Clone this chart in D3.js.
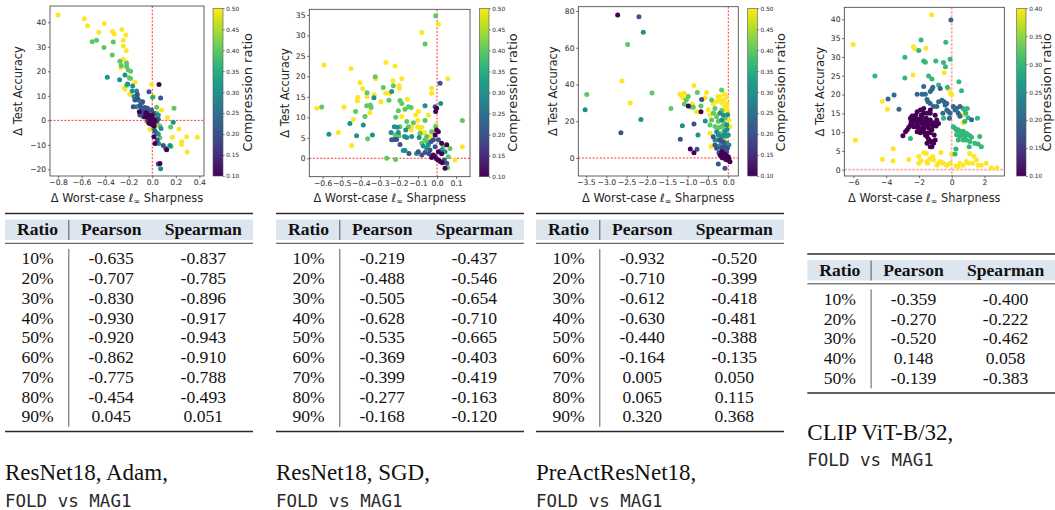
<!DOCTYPE html>
<html>
<head>
<meta charset="utf-8">
<script src="https://cdn.jsdelivr.net/npm/d3@7"></script>
<style>
  body { margin: 0; background: #fff; }
  svg { display: block; }
</style>
</head>
<body>
<svg id="fig" width="1055" height="510"></svg>
<script>
// ---------------------------------------------------------------
// Scatter data: [Δ worst-case ℓ∞ sharpness, Δ test accuracy, compression ratio]
// ---------------------------------------------------------------
const adamPoints = [
  [-0.80,43.0,.5],[-0.577,41.4,.5],[-0.549,38.6,.5],[-0.408,39.5,.5],[-0.453,35.9,.5],[-0.51,32.1,.4],[-0.473,32.7,.4],
  [-0.41,29.7,.4],[-0.337,36.2,.5],[-0.323,35.2,.5],[-0.258,37.1,.5],[-0.224,34.8,.5],[-0.331,32.0,.4],[-0.246,32.7,.5],
  [-0.246,30.3,.5],[-0.221,28.4,.5],[-0.34,26.7,.4],[-0.246,24.9,.5],[-0.275,24.1,.4],[-0.218,23.4,.4],[-0.263,22.4,.4],
  [-0.218,22.0,.4],[-0.266,21.5,.5],[-0.204,20.5,.4],[-0.232,18.5,.3],[-0.382,17.6,.3],[-0.184,20.0,.4],[-0.195,17.4,.4],
  [-0.277,16.6,.3],[-0.184,17.1,.4],[-0.209,14.8,.3],[-0.218,14.3,.4],[-0.238,13.2,.5],[-0.232,12.8,.5],[-0.147,15.5,.5],
  [-0.167,14.0,.3],[-0.17,12.0,.3],[-0.133,12.0,.3],[-0.19,10.6,.5],[-0.127,10.6,.2],[-0.156,9.7,.3],[-0.147,8.3,.2],
  [-0.11,8.0,.3],[-0.082,7.6,.2],[-0.161,5.6,.2],[-0.133,5.6,.3],[-0.105,6.1,.2],[-0.091,4.9,.2],[-0.076,4.2,.2],
  [-0.062,5.2,.2],[-0.11,3.5,.1],[-0.048,2.9,.2],[-0.034,2.2,.1],[-0.02,1.5,.1],[-0.048,4.2,.3],[-0.076,2.9,.2],
  [-0.034,3.5,.2],[-0.025,0.8,.1],[-0.006,1.2,.1],[-0.014,0.1,.1],[0.008,0.5,.1],[0.023,-0.1,.1],[0.014,-1.0,.1],
  [0.037,-0.5,.2],[-0.028,11.7,.2],[-0.006,14.6,.5],[0.003,9.4,.35],[0.011,9.7,.5],[0.057,14.6,.1],[0.071,9.1,.2],
  [0.037,5.3,.4],[0.079,4.2,.5],[0.184,4.9,.4],[0.178,-0.8,.3],[0.13,1.2,.5],[0.226,-3.5,.5],[0.156,-2.7,.4],
  [0.065,-2.3,.4],[0.074,-3.3,.3],[-0.02,-3.7,.5],[0.017,-2.3,.1],[0.023,-4.4,.2],[0.037,-5.3,.3],[0.014,-6.7,.1],
  [0.051,-5.6,.3],[0.065,-7.1,.4],[0.042,-8.0,.2],[0.023,-9.4,.1],[0.054,-9.4,.3],[0.17,-6.9,.5],[0.093,-10.3,.2],
  [0.113,-11.4,.3],[0.122,-12.0,.1],[0.15,-10.3,.3],[0.159,-10.7,.4],[0.249,-8.7,.5],[0.249,-9.8,.5],[0.292,-6.7,.5],
  [0.297,-12.9,.5],[0.382,-6.9,.5],[0.051,-17.8,.2],[0.065,-17.6,.1],[0.071,-19.7,.3],[-0.003,2.2,.1],[0.037,1.5,.3],
  [0.051,0.4,.2],[0.014,-3.3,.3],[-0.048,-0.5,.5],[-0.028,-1.2,.1],[-0.076,1.5,.2],[-0.105,2.2,.2],[-0.062,1.5,.1],
  [-0.042,-0.1,.2],[-0.011,-1.5,.1],[0.003,-1.9,.2],[-0.054,3.1,.1],[-0.091,7.0,.3],[-0.125,9.0,.2],[-0.04,4.9,.2],
  [-0.006,4.2,.2],[0.014,2.9,.2],[0.037,2.9,.4],[0.051,2.2,.3],[-0.03,0.6,.5],[0.02,1.8,.4],[0.045,-1.5,.5]
];

const sgdPoints = [
  [-0.593,22.8,.5],[-0.631,12.2,.5],[-0.605,12.5,.4],[-0.567,5.9,.3],[-0.518,6.3,.5],[-0.488,12.5,.5],[-0.451,21.9,.5],
  [-0.457,8.5,.3],[-0.439,9.5,.5],[-0.427,11.4,.4],[-0.448,3.1,.5],[-0.422,5.5,.3],[-0.418,14.0,.5],[-0.416,14.9,.5],
  [-0.404,18.5,.5],[-0.39,17.0,.5],[-0.387,8.1,.3],[-0.378,10.2,.4],[-0.367,16.0,.4],[-0.369,12.8,.4],[-0.367,15.1,.5],
  [-0.35,13.0,.4],[-0.352,11.2,.5],[-0.364,4.8,.4],[-0.339,5.7,.3],[-0.331,14.8,.3],[-0.329,15.5,.5],[-0.324,19.9,.4],
  [-0.322,19.4,.5],[-0.346,12.4,.4],[-0.294,13.8,.5],[-0.282,17.3,.4],[-0.268,23.4,.5],[-0.269,15.9,.5],[-0.264,0.0,.4],
  [-0.252,14.2,.4],[-0.247,15.9,.5],[-0.238,16.3,.3],[-0.229,17.7,.4],[-0.231,18.9,.5],[-0.22,22.5,.5],[-0.241,6.3,.3],
  [-0.217,-0.3,.4],[-0.224,4.6,.2],[-0.199,17.7,.5],[-0.198,17.1,.5],[-0.185,19.4,.5],[-0.194,14.1,.4],[-0.185,13.4,.4],
  [-0.203,11.6,.4],[-0.185,10.2,.5],[-0.194,7.7,.4],[-0.208,7.6,.3],[-0.224,7.7,.3],[-0.217,10.0,.4],[-0.203,6.3,.3],
  [-0.199,5.5,.4],[-0.22,5.7,.4],[-0.212,4.6,.2],[-0.238,4.5,.2],[-0.194,3.4,.2],[-0.177,1.9,.3],[-0.168,1.9,.3],
  [-0.147,1.2,.2],[-0.168,12.0,.4],[-0.156,14.4,.5],[-0.15,12.6,.4],[-0.136,12.4,.4],[-0.159,9.0,.4],[-0.15,7.7,.4],
  [-0.136,6.9,.5],[-0.133,7.5,.5],[-0.164,6.9,.3],[-0.159,5.1,.3],[-0.133,5.3,.3],[-0.17,5.3,.3],[-0.112,10.6,.5],
  [-0.101,9.2,.5],[-0.098,11.4,.5],[-0.124,8.7,.4],[-0.101,7.7,.5],[-0.089,7.3,.5],[-0.08,7.6,.5],[-0.089,6.1,.4],
  [-0.08,6.1,.5],[-0.094,5.1,.3],[-0.066,6.3,.5],[-0.054,5.3,.4],[-0.063,4.5,.4],[-0.072,3.0,.3],[-0.08,3.7,.4],
  [-0.054,2.4,.3],[-0.037,2.0,.2],[-0.045,3.3,.3],[-0.063,1.4,.2],[-0.042,1.1,.2],[-0.019,0.8,.1],[-0.01,0.4,.1],
  [-0.028,0.2,.1],[-0.002,-0.2,.1],[0.007,-0.4,.1],[0.016,-0.8,.1],[0.028,-1.1,.1],[0.038,-0.4,.2],[0.051,-1.2,.2],
  [0.042,-2.4,.1],[0.056,-2.3,.4],[0.059,0.4,.4],[0.068,2.4,.4],[0.024,1.1,.1],[0.007,1.6,.1],[-0.01,2.8,.2],
  [-0.019,4.5,.2],[-0.01,5.7,.1],[-0.002,6.9,.1],[-0.005,8.1,.5],[-0.007,11.4,.1],[-0.01,12.6,.2],[0.016,18.3,.2],
  [0.019,13.4,.3],[-0.028,15.9,.5],[-0.007,34.8,.4],[-0.08,30.7,.5],[-0.063,27.9,.4],[0.007,32.7,.5],[-0.028,17.1,.5],
  [-0.063,12.8,.3],[-0.045,10.6,.5],[-0.002,12.2,.1],[-0.063,9.2,.4],[0.056,19.4,.5],[0.133,9.2,.4],[0.133,2.8,.5],
  [0.094,-0.4,.5],[0.051,3.3,.1],[0.024,3.7,.1],[0.007,4.5,.2],[-0.031,4.1,.2],[-0.054,4.1,.4],[-0.028,6.5,.4],
  [-0.037,5.3,.5],[-0.019,6.5,.5],[0.007,6.5,.1],[-0.007,7.7,.4],[-0.098,1.6,.2],[-0.08,0.8,.2],[-0.107,1.2,.3],
  [0.024,2.0,.3],[0.033,2.8,.4],[0.042,1.6,.3]
];

const preactPoints = [
  [-2.72,77.8,.1],[-2.197,76.9,.2],[-2.09,68.4,.3],[-2.475,61.7,.4],[-2.615,41.9,.5],[-2.41,29.9,.5],[-3.48,34.5,.4],
  [-3.52,26.3,.3],[-2.64,13.8,.2],[-2.148,21.0,.3],[-1.877,35.4,.4],[-1.41,27.0,.4],[-1.19,34.8,.5],[-1.148,33.9,.5],
  [-1.107,32.5,.5],[-1.08,35.2,.5],[-1.08,29.4,.4],[-1.033,31.6,.4],[-0.984,33.4,.4],[-0.844,39.5,.5],[-0.885,29.4,.5],
  [-0.918,27.8,.4],[-0.861,27.6,.4],[-0.984,28.3,.1],[-0.762,35.6,.4],[-0.639,31.9,.5],[-0.656,31.9,.2],[-0.672,25.2,.1],
  [-0.779,25.2,.5],[-0.672,28.3,.4],[-0.533,35.7,.5],[-0.57,32.8,.5],[-0.566,20.1,.3],[-1.13,17.6,.3],[-1.18,10.2,.2],
  [-0.844,18.5,.2],[-0.746,12.5,.3],[-0.934,4.9,.1],[-0.844,2.9,.1],[-0.77,4.7,.2],[-0.492,26.3,.5],[-0.451,23.4,.5],
  [-0.451,18.0,.4],[-0.41,20.7,.4],[-0.451,13.4,.5],[-0.426,6.2,.5],[-0.369,29.4,.5],[-0.328,27.0,.4],[-0.262,33.4,.5],
  [-0.23,31.6,.5],[-0.18,30.7,.5],[-0.287,22.5,.4],[-0.246,19.8,.4],[-0.328,17.1,.4],[-0.205,16.7,.4],[-0.164,37.0,.4],
  [-0.123,31.6,.5],[-0.148,29.9,.5],[-0.082,27.9,.5],[-0.041,27.6,.5],[-0.016,25.2,.5],[-0.041,22.5,.5],[0.016,20.7,.5],
  [0.041,17.1,.5],[-0.164,25.8,.4],[-0.205,24.3,.3],[-0.123,23.4,.3],[-0.082,21.6,.4],[-0.164,20.7,.3],[-0.098,18.9,.4],
  [-0.041,18.0,.3],[-0.287,14.3,.3],[-0.246,12.5,.3],[-0.205,13.4,.4],[-0.164,11.6,.3],[-0.123,12.5,.3],[-0.082,14.3,.3],
  [-0.262,9.8,.3],[-0.328,9.8,.3],[-0.205,9.8,.2],[-0.123,8.9,.2],[-0.082,10.7,.5],[0.0,12.5,.3],[0.016,7.1,.3],
  [-0.041,8.0,.3],[-0.328,7.1,.2],[-0.287,5.3,.2],[-0.246,6.2,.3],[-0.164,5.3,.2],[-0.098,6.2,.2],[-0.23,2.9,.2],
  [-0.164,3.4,.1],[-0.123,2.5,.1],[-0.082,2.0,.1],[-0.041,1.1,.1],[0.0,0.7,.1],[0.016,-0.4,.1],[-0.016,-1.1,.1],
  [-0.082,-0.2,.1],[-0.123,0.7,.2],[0.041,-2.0,.1],[-0.041,3.4,.2],[-0.246,-3.3,.2],[-0.082,-5.6,.2],[-0.369,11.6,.2],
  [-0.098,15.2,.4],[-0.016,23.6,.3],[-0.098,34.8,.5],[-0.041,33.0,.5],[-0.205,33.4,.5],[-0.287,30.7,.5],[-0.41,31.6,.4],
  [-0.369,24.5,.4],[-0.311,23.6,.5],[-0.2,1.5,.1],[-0.15,0.2,.1],[-0.06,-0.8,.1],[-0.1,4.5,.2],[-0.02,5.5,.2],
  [-0.18,7.5,.3],[-0.06,12.0,.3],[-0.03,15.5,.3],[-0.14,17.5,.4],[-0.26,16.5,.4],[-0.03,29.5,.5],[-0.06,26.0,.5]
];

const clipPoints = [
  [-6.02,33.3,.4],[-5.88,7.8,.4],[-4.69,24.9,.3],[-4.23,2.8,.4],[-4.23,18.2,.4],[-3.89,18.8,.2],[-3.93,16.1,.4],
  [-3.52,19.9,.2],[-3.58,5.6,.4],[-3.58,2.3,.4],[-3.22,16.1,.2],[-2.98,9.0,.1],[-2.86,29.9,.3],[-2.86,24.4,.3],
  [-2.72,10.6,.1],[-2.62,2.7,.4],[-2.52,8.3,.3],[-2.48,12.8,.1],[-2.36,25.2,.4],[-2.34,32.7,.4],[-2.24,32.1,.4],
  [-2.01,31.7,.3],[-1.87,34.5,.3],[-2.01,3.5,.4],[-2.01,1.7,.4],[-1.87,2.4,.4],[-1.71,28.9,.3],[-1.61,28.6,.3],
  [-1.57,32.3,.4],[-1.41,24.9,.3],[-1.21,24.1,.3],[-1.23,41.2,.4],[-0.97,28.9,.3],[-0.5,28.5,.3],[-0.46,25.8,.4],
  [-0.36,33.9,.3],[-0.38,27.4,.3],[-0.1,29.4,.3],[-0.05,39.8,.2],[-0.8,22.5,.3],[-0.7,21.6,.2],[-0.26,21.9,.3],
  [-0.2,21.4,.4],[-0.06,20.3,.4],[0.0,20.0,.4],[0.6,21.0,.3],[0.44,23.4,.3],[-1.71,22.1,.2],[-1.61,20.1,.2],
  [-1.51,18.7,.2],[-1.31,20.8,.2],[-1.21,21.4,.2],[-1.15,21.9,.2],[-1.81,20.1,.2],[-2.11,20.1,.2],[-1.45,18.1,.2],
  [-1.31,17.6,.2],[-1.11,16.8,.2],[-0.91,16.8,.2],[-0.8,18.1,.2],[-0.6,18.5,.2],[-0.46,18.1,.2],[-0.4,17.2,.2],
  [-0.3,17.6,.2],[-0.3,15.9,.2],[-0.54,15.0,.2],[-0.5,13.7,.3],[-0.2,15.5,.2],[-0.1,15.0,.2],[-0.14,13.7,.2],
  [0.1,16.8,.2],[0.2,15.9,.2],[0.3,16.3,.2],[0.4,15.0,.2],[0.5,16.8,.2],[0.5,14.2,.2],[0.66,14.5,.4],[0.7,16.3,.3],
  [0.8,15.9,.3],[0.86,15.0,.3],[0.95,16.3,.3],[1.0,13.8,.3],[1.57,13.7,.3],[1.21,13.3,.2],[0.7,12.5,.4],[0.8,12.8,.3],
  [0.1,11.4,.3],[0.2,11.0,.3],[0.3,10.5,.3],[0.4,10.6,.3],[0.5,10.2,.3],[0.6,9.8,.3],[0.7,9.3,.3],[0.8,8.9,.3],
  [0.9,9.7,.3],[1.0,9.3,.3],[1.11,9.0,.3],[1.21,8.6,.3],[0.5,8.9,.3],[0.3,9.3,.3],[0.4,7.9,.3],[0.7,7.9,.3],
  [0.9,7.9,.3],[1.11,7.5,.3],[1.41,7.0,.3],[1.61,6.8,.3],[1.81,6.1,.3],[1.71,8.8,.3],[1.07,6.1,.3],[1.1,4.3,.4],
  [1.35,3.6,.4],[1.51,2.6,.4],[1.61,1.2,.4],[1.81,1.2,.4],[2.11,1.7,.4],[2.42,0.5,.4],[2.76,0.5,.4],[1.27,1.7,.4],
  [1.01,1.7,.4],[0.91,2.2,.4],[0.7,1.2,.4],[0.5,1.7,.4],[0.4,0.8,.4],[0.26,1.0,.4],[0.0,4.2,.4],[-0.1,1.7,.4],
  [-0.3,1.2,.4],[-0.5,1.7,.4],[-0.6,1.9,.4],[-0.7,2.2,.4],[-0.8,1.7,.4],[-0.91,1.2,.4],[-1.11,2.6,.4],[-1.15,3.5,.4],
  [-1.35,2.8,.4],[-1.47,1.7,.4],[-1.51,2.2,.4],[-1.55,4.3,.4],[-0.66,4.6,.4],[-1.71,4.5,.4],[0.26,5.5,.3],[0.2,4.2,.3],
  [0.7,10.2,.3],
  [-2.52,13.7,.1],[-2.42,14.3,.1],[-2.32,13.9,.1],[-2.28,13.2,.1],[-2.21,13.7,.1],[-2.15,12.8,.1],[-2.11,12.2,.1],
  [-2.01,12.3,.1],[-2.01,13.4,.1],[-1.91,13.2,.1],[-1.87,14.5,.1],[-1.81,12.3,.1],[-1.75,11.6,.1],[-1.71,12.8,.1],
  [-1.71,11.0,.1],[-1.61,12.2,.1],[-1.55,13.7,.1],[-1.51,12.8,.1],[-1.47,11.6,.1],[-1.41,11.0,.1],[-1.35,12.2,.1],
  [-1.31,13.2,.1],[-1.31,9.8,.1],[-1.21,10.6,.1],[-1.15,11.6,.1],[-1.11,12.5,.1],[-1.07,9.2,.1],[-1.01,7.9,.1],
  [-1.11,7.0,.1],[-1.21,6.1,.1],[-1.31,7.5,.1],[-1.51,9.7,.1],[-1.61,9.2,.1],[-1.71,10.1,.1],[-1.81,10.6,.1],
  [-1.91,9.8,.1],[-2.01,11.0,.1],[-2.11,10.1,.1],[-2.21,11.4,.1],[-2.32,11.4,.1],[-2.42,11.9,.1],[-2.62,11.3,.1],
  [-2.82,10.1,.1],[-0.91,13.2,.1],[-0.81,12.3,.1],[-1.01,14.5,.1],[-1.31,15.0,.1],[-1.51,15.0,.1],[-1.71,15.0,.1],
  [-1.91,15.9,.1],[-2.11,15.4,.1],[-1.71,16.3,.1],[-1.31,15.9,.1],[-1.81,14.1,.1],[-2.21,14.5,.1],[-2.36,12.8,.1],
  [-2.52,11.9,.1],[-1.51,8.8,.1],[-1.41,8.1,.1],[-1.21,7.5,.1],[-1.31,6.1,.1],[-1.51,7.0,.1],[-0.95,11.6,.1]
];

// Axis tick values
const adamXTicks = [-0.8, -0.6, -0.4, -0.2, 0.0, 0.2, 0.4];
const adamYTicks = [-20, -10, 0, 10, 20, 30, 40];
const sgdXTicks = [-0.6, -0.5, -0.4, -0.3, -0.2, -0.1, 0.0, 0.1];
const sgdYTicks = [0, 5, 10, 15, 20, 25, 30, 35];
const preactXTicks = [-3.5, -3.0, -2.5, -2.0, -1.5, -1.0, -0.5, 0.0];
const preactYTicks = [0, 20, 40, 60, 80];
const clipXTicks = [-6, -4, -2, 0, 2];
const clipYTicks = [0, 5, 10, 15, 20, 25, 30, 35, 40];
const cbTicksTo50 = [0.10, 0.15, 0.20, 0.25, 0.30, 0.35, 0.40, 0.45, 0.50];
const cbTicksTo40 = [0.10, 0.15, 0.20, 0.25, 0.30, 0.35, 0.40];

// Axis titles
const xTitleMain = "Δ Worst-case ";
const xTitleTail = " Sharpness";
const yTitle = "Δ Test Accuracy";
const cbTitle = "Compression ratio";

// Correlation tables
const tableHeader = ["Ratio", "Pearson", "Spearman"];
const ratiosNine = ["10%", "20%", "30%", "40%", "50%", "60%", "70%", "80%", "90%"];
const ratiosFive = ["10%", "20%", "30%", "40%", "50%"];
const adamPearson   = [-0.635, -0.707, -0.830, -0.930, -0.920, -0.862, -0.775, -0.454, 0.045];
const adamSpearman  = [-0.837, -0.785, -0.896, -0.917, -0.943, -0.910, -0.788, -0.493, 0.051];
const sgdPearson    = [-0.219, -0.488, -0.505, -0.628, -0.535, -0.369, -0.399, -0.277, -0.168];
const sgdSpearman   = [-0.437, -0.546, -0.654, -0.710, -0.665, -0.403, -0.419, -0.163, -0.120];
const preactPearson = [-0.932, -0.710, -0.612, -0.630, -0.440, -0.164, 0.005, 0.065, 0.320];
const preactSpearman= [-0.520, -0.399, -0.418, -0.481, -0.388, -0.135, 0.050, 0.115, 0.368];
const clipPearson   = [-0.359, -0.270, -0.520, 0.148, -0.139];
const clipSpearman  = [-0.400, -0.222, -0.462, 0.058, -0.383];

// Captions
const captionTitles = ["ResNet18, Adam,", "ResNet18, SGD,", "PreActResNet18,", "CLIP ViT-B/32,"];
const methodA = "FOLD";
const methodB = "MAG1";

// ---------------------------------------------------------------
const svg = d3.select("#fig");
const defs = svg.append("defs");
const SANS = "'DejaVu Sans', sans-serif";
const SERIF = "'Liberation Serif', 'Times New Roman', serif";
const MONO = "'DejaVu Sans Mono', monospace";

const fmt1 = d3.format(".1f");
const fmtInt = d3.format("d");
const fmt2 = d3.format(".2f");

const panels = [
  { key: "adam", points: adamPoints, box: { l: 50, r: 204, t: 6, b: 176 },
    xDomain: [-0.868, 0.439], yDomain: [-22.7, 46.65], xTicks: adamXTicks, yTicks: adamYTicks,
    xFmt: fmt1, yFmt: fmtInt, cb: { x: 213, w: 10, t: 8.3, b: 176 }, cbDomain: [0.1, 0.5], cbTicks: cbTicksTo50,
    ylabOff: 32, cbLabOff: 24, ref: { w: 0.9, op: 0.9, dash: "2,1.6" } },
  { key: "sgd", points: sgdPoints, box: { l: 309.3, r: 470, t: 9.3, b: 176.7 },
    xDomain: [-0.670, 0.173], yDomain: [-4.49, 36.37], xTicks: sgdXTicks, yTicks: sgdYTicks,
    xFmt: fmt1, yFmt: fmtInt, cb: { x: 479.3, w: 9.7, t: 8.3, b: 176.7 }, cbDomain: [0.1, 0.5], cbTicks: cbTicksTo50,
    ylabOff: 24.5, cbLabOff: 23, ref: { w: 0.9, op: 0.9, dash: "2,1.6" } },
  { key: "preact", points: preactPoints, box: { l: 578.3, r: 738.3, t: 6.7, b: 176 },
    xDomain: [-3.688, 0.246], yDomain: [-9.8, 82.34], xTicks: preactXTicks, yTicks: preactYTicks,
    xFmt: fmt1, yFmt: fmtInt, cb: { x: 747.7, w: 9.6, t: 8.3, b: 176 }, cbDomain: [0.1, 0.5], cbTicks: cbTicksTo50,
    ylabOff: 25, cbLabOff: 22.7, ref: { w: 0.9, op: 0.9, dash: "2,1.6" } },
  { key: "clip", points: clipPoints, box: { l: 844.3, r: 1004.3, t: 7.3, b: 176 },
    xDomain: [-6.559, 3.212], yDomain: [-1.68, 43.2], xTicks: clipXTicks, yTicks: clipYTicks,
    xFmt: fmtInt, yFmt: fmtInt, cb: { x: 1016.7, w: 9.3, t: 8.3, b: 176 }, cbDomain: [0.1, 0.4], cbTicks: cbTicksTo40,
    ylabOff: 24.5, cbLabOff: 20.5, ref: { w: 1.8, op: 0.35, dash: "2.5,1.5" } }
];

const TICK_FONT = 7.6;
const LABEL_FONT = 11.4;

panels.forEach((p, i) => {
  const g = svg.append("g").attr("class", "panel-" + p.key);
  const x = d3.scaleLinear().domain(p.xDomain).range([p.box.l, p.box.r]);
  const y = d3.scaleLinear().domain(p.yDomain).range([p.box.b, p.box.t]);
  const color = d3.scaleSequential(d3.interpolateViridis).domain(p.cbDomain);

  // clip region for the plotting area
  const clipId = "clip-" + p.key;
  defs.append("clipPath").attr("id", clipId)
    .append("rect").attr("x", p.box.l).attr("y", p.box.t)
    .attr("width", p.box.r - p.box.l).attr("height", p.box.b - p.box.t);

  const plot = g.append("g").attr("clip-path", `url(#${clipId})`);

  // reference lines at zero
  plot.append("line")
    .attr("x1", x(0)).attr("x2", x(0)).attr("y1", p.box.t).attr("y2", p.box.b)
    .attr("stroke", "#ff0000").attr("stroke-width", p.ref.w).attr("stroke-opacity", p.ref.op)
    .attr("stroke-dasharray", p.ref.dash);
  plot.append("line")
    .attr("x1", p.box.l).attr("x2", p.box.r).attr("y1", y(0)).attr("y2", y(0))
    .attr("stroke", "#ff0000").attr("stroke-width", p.ref.w).attr("stroke-opacity", p.ref.op)
    .attr("stroke-dasharray", p.ref.dash);

  // scatter points, higher ratios drawn first
  const ordered = p.points.slice().sort((a, b) => b[2] - a[2]);
  plot.selectAll("circle").data(ordered).join("circle")
    .attr("cx", d => x(d[0])).attr("cy", d => y(d[1])).attr("r", 2.5)
    .attr("fill", d => color(d[2]));

  // frame
  g.append("rect")
    .attr("x", p.box.l).attr("y", p.box.t)
    .attr("width", p.box.r - p.box.l).attr("height", p.box.b - p.box.t)
    .attr("fill", "none").attr("stroke", "#3a3a3a").attr("stroke-width", 0.8);

  // axes
  const xAxis = d3.axisBottom(x).tickValues(p.xTicks).tickFormat(p.xFmt).tickSize(2.2).tickPadding(1.8);
  const yAxis = d3.axisLeft(y).tickValues(p.yTicks).tickFormat(p.yFmt).tickSize(2.2).tickPadding(1.6);
  const gx = g.append("g").attr("transform", `translate(0,${p.box.b})`).call(xAxis);
  const gy = g.append("g").attr("transform", `translate(${p.box.l},0)`).call(yAxis);
  [gx, gy].forEach(ax => {
    ax.select(".domain").remove();
    ax.selectAll(".tick line").attr("stroke", "#3a3a3a").attr("stroke-width", 0.7);
    ax.selectAll(".tick text").attr("font-family", SANS).attr("font-size", TICK_FONT).attr("fill", "#262626");
  });

  // axis titles
  const cx = (p.box.l + p.box.r) / 2;
  const cy = (p.box.t + p.box.b) / 2;
  const xt = g.append("text")
    .attr("x", cx).attr("y", 201.5).attr("text-anchor", "middle")
    .attr("font-family", SANS).attr("font-size", LABEL_FONT).attr("fill", "#262626");
  xt.append("tspan").text(xTitleMain);
  xt.append("tspan").attr("font-style", "italic").text("ℓ");
  xt.append("tspan").attr("font-size", LABEL_FONT * 0.7).attr("dy", 2).text("∞");
  xt.append("tspan").attr("dy", -2).text(xTitleTail);

  g.append("text")
    .attr("transform", `translate(${p.box.l - p.ylabOff},${cy}) rotate(-90)`)
    .attr("text-anchor", "middle").attr("dominant-baseline", "central")
    .attr("font-family", SANS).attr("font-size", LABEL_FONT).attr("fill", "#262626")
    .text(yTitle);

  // colorbar
  const gradId = "grad-" + p.key;
  const grad = defs.append("linearGradient").attr("id", gradId)
    .attr("x1", 0).attr("y1", 1).attr("x2", 0).attr("y2", 0);
  d3.range(0, 1.0001, 0.05).forEach(t => {
    grad.append("stop").attr("offset", t).attr("stop-color", d3.interpolateViridis(t));
  });
  g.append("rect")
    .attr("x", p.cb.x).attr("y", p.cb.t).attr("width", p.cb.w).attr("height", p.cb.b - p.cb.t)
    .attr("fill", `url(#${gradId})`).attr("stroke", "#555").attr("stroke-width", 0.6);

  const cbScale = d3.scaleLinear().domain(p.cbDomain).range([p.cb.b, p.cb.t]);
  const cbAxis = d3.axisRight(cbScale).tickValues(p.cbTicks).tickFormat(fmt2).tickSize(1.8).tickPadding(1.5);
  const gcb = g.append("g").attr("transform", `translate(${p.cb.x + p.cb.w},0)`).call(cbAxis);
  gcb.select(".domain").remove();
  gcb.selectAll(".tick line").attr("stroke", "#3a3a3a").attr("stroke-width", 0.6);
  gcb.selectAll(".tick text").attr("font-family", SANS).attr("font-size", 5.8).attr("fill", "#262626");

  g.append("text")
    .attr("transform", `translate(${p.cb.x + p.cb.w + p.cbLabOff},${(p.cb.t + p.cb.b) / 2}) rotate(-90)`)
    .attr("text-anchor", "middle").attr("dominant-baseline", "central")
    .attr("font-family", SANS).attr("font-size", 13).attr("fill", "#262626")
    .text(cbTitle);
});

// ---------------------------------------------------------------
// Tables
// ---------------------------------------------------------------
const tableFmt = d3.formatLocale({ decimal: ".", thousands: ",", grouping: [3], currency: ["", ""], minus: "-" }).format(".3f");

const tables = [
  { left: 5,     top: 213.5, ratios: ratiosNine, pearson: adamPearson,   spearman: adamSpearman,   title: captionTitles[0], capY: 480 },
  { left: 276,   top: 213.5, ratios: ratiosNine, pearson: sgdPearson,    spearman: sgdSpearman,    title: captionTitles[1], capY: 480 },
  { left: 536,   top: 213.5, ratios: ratiosNine, pearson: preactPearson, spearman: preactSpearman, title: captionTitles[2], capY: 480 },
  { left: 807.3, top: 254,   ratios: ratiosFive, pearson: clipPearson,   spearman: clipSpearman,   title: captionTitles[3], capY: 439.5 }
];

const TW = 248;
const colX = [32.5, 106.2, 198.3];
const sepX = 63.8;
const ROW_H = 19.75;
const TFONT = 17.6;

tables.forEach(t => {
  const g = svg.append("g").attr("transform", `translate(${t.left},${t.top})`);
  // header band
  g.append("rect").attr("x", 0).attr("y", 6).attr("width", TW).attr("height", 20.5).attr("fill", "#dde5ef");
  // rules
  g.append("line").attr("x1", 0).attr("x2", TW).attr("y1", 0).attr("y2", 0)
    .attr("stroke", "#2b2b2b").attr("stroke-width", 1.4);
  g.append("line").attr("x1", 0).attr("x2", TW).attr("y1", 29.8).attr("y2", 29.8)
    .attr("stroke", "#2b2b2b").attr("stroke-width", 0.9);
  const lastBase = 50.8 + ROW_H * (t.ratios.length - 1);
  g.append("line").attr("x1", 0).attr("x2", TW).attr("y1", lastBase + 9.2).attr("y2", lastBase + 9.2)
    .attr("stroke", "#2b2b2b").attr("stroke-width", 1.4);
  // vertical separators
  g.append("line").attr("x1", sepX).attr("x2", sepX).attr("y1", 6.5).attr("y2", 26.5)
    .attr("stroke", "#333").attr("stroke-width", 0.8);
  g.append("line").attr("x1", sepX).attr("x2", sepX).attr("y1", 35.5).attr("y2", lastBase + 4.5)
    .attr("stroke", "#333").attr("stroke-width", 0.8);
  // header text
  g.selectAll("text.head").data(tableHeader).join("text").attr("class", "head")
    .attr("x", (d, i) => colX[i]).attr("y", 21.8).attr("text-anchor", "middle")
    .attr("font-family", SERIF).attr("font-weight", "bold").attr("font-size", TFONT).attr("fill", "#111")
    .text(d => d);
  // body rows
  const rows = t.ratios.map((r, i) => [r, tableFmt(t.pearson[i]), tableFmt(t.spearman[i])]);
  rows.forEach((row, i) => {
    row.forEach((cell, j) => {
      g.append("text")
        .attr("x", colX[j]).attr("y", 50.8 + ROW_H * i).attr("text-anchor", "middle")
        .attr("font-family", SERIF).attr("font-size", TFONT).attr("fill", "#111")
        .text(cell);
    });
  });

  // caption
  svg.append("text").attr("x", t.left).attr("y", t.capY)
    .attr("font-family", SERIF).attr("font-size", 23).attr("fill", "#111")
    .text(t.title);
  const cap2 = svg.append("text").attr("x", t.left).attr("y", t.capY + 26.7)
    .attr("font-family", MONO).attr("font-size", 17.5).attr("fill", "#2a2a2a");
  cap2.append("tspan").text(methodA);
  cap2.append("tspan").text(" vs ");
  cap2.append("tspan").text(methodB);
});
</script>
</body>
</html>
